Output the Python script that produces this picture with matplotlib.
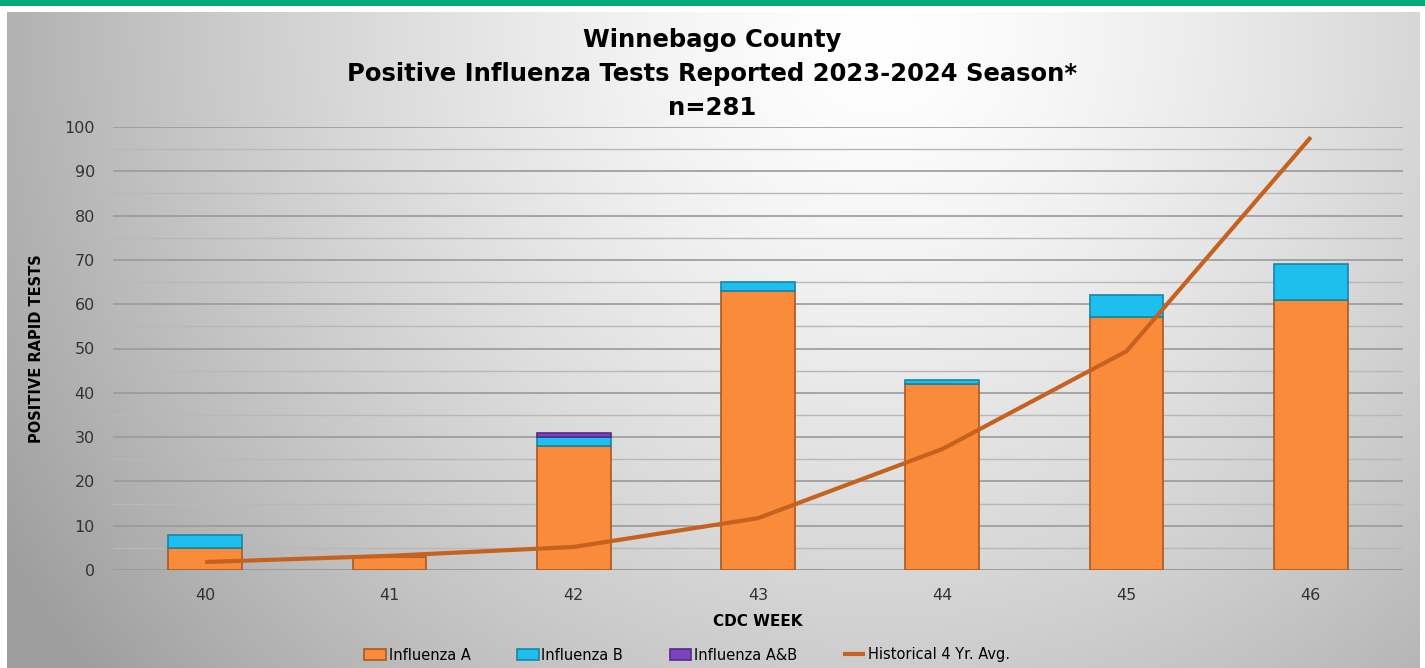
import numpy as np
import matplotlib
matplotlib.use("Agg")
import matplotlib.pyplot as plt

weeks = ["40", "41", "42", "43", "44", "45", "46"]
flu_a = [5, 3, 28, 63, 42, 57, 61]
flu_b = [3, 0, 2, 2, 1, 5, 8]
flu_ab = [0, 0, 1, 0, 0, 0, 0]
hist_avg = [1.8, 3.2, 5.2, 11.7, 27.3, 49.4, 97.7]
yticks = list(range(0, 101, 10))

plt.rcParams['font.family'] = ['DejaVu Sans']

W, H = 1425, 668
fig = plt.figure(figsize=(W / 100, H / 100), dpi=100)
fig.patch.set_facecolor("white")

# background gradient panel
bg = fig.add_axes([7 / W, 0, (1420 - 7) / W, 1 - 12 / H], zorder=0)
yy, xx = np.mgrid[0:656, 0:1413]
cx, cy = 870, 20
d = np.sqrt((xx - cx) ** 2 + (yy - cy) ** 2)
v = 1.0 - np.clip(d / 920, 0, 1.1) ** 1.4 * 0.33
img = np.dstack([v, v, v])
bg.imshow(img, aspect="auto", extent=[0, 1, 0, 1], origin="upper")
bg.set_axis_off()

# green top band
band = fig.add_axes([0, 1 - 6 / H, 1, 6 / H], zorder=1)
band.set_facecolor("#00a87a")
band.set_xticks([]); band.set_yticks([])
for s in band.spines.values():
    s.set_visible(False)

ax = fig.add_axes([113 / W, 1 - 570 / H, (1403 - 113) / W, (570 - 127) / H], zorder=2)
ax.patch.set_alpha(0)
x = np.arange(len(weeks))
bw = 0.4
orange, blue, purple = "#F98B3A", "#1DBFEE", "#7E44BE"


def stacked(vals, bottoms, color, edge, label):
    idx = [i for i, v in enumerate(vals) if v > 0]
    return ax.bar([x[i] for i in idx], [vals[i] for i in idx], bw,
                  bottom=[bottoms[i] for i in idx], color=color, edgecolor=edge,
                  linewidth=1.2, label=label, zorder=3)


h_a = stacked(flu_a, [0] * len(flu_a), orange, "#A95A22", "Influenza A")
h_b = stacked(flu_b, flu_a, blue, "#1585AA", "Influenza B")
bot2 = [a + b for a, b in zip(flu_a, flu_b)]
h_ab = stacked(flu_ab, bot2, purple, "#55298A", "Influenza A&B")
h_l, = ax.plot(x, hist_avg, color="#C5621F", linewidth=3.0, label="Historical 4 Yr. Avg.",
               zorder=4, solid_capstyle="butt")

ax.set_xlim(-0.5, 6.5)
ax.set_ylim(0, 100)
ax.set_yticks(yticks)
ax.set_yticks(range(5, 100, 10), minor=True)
ax.grid(axis="y", which="major", color="#9a9a9a", linewidth=1.2, zorder=0)
ax.grid(axis="y", which="minor", color="#b8b8b8", linewidth=1.0, zorder=0)
ax.set_xticks(x)
ax.set_xticklabels(weeks)
ax.tick_params(axis="both", which="both", length=0, labelsize=11.5, colors="#333333")
ax.tick_params(axis="x", pad=13)
ax.tick_params(axis="y", pad=13)
for s in ax.spines.values():
    s.set_visible(False)
ax.axhline(0, color="#9a9a9a", linewidth=1.2, zorder=1)

ax.set_xlabel("CDC WEEK", fontsize=11, fontweight="bold", labelpad=8)
ax.set_ylabel("POSITIVE RAPID TESTS", fontsize=10.5, fontweight="bold", labelpad=15)

for ypx, txt in [(40, "Winnebago County"),
                 (74, "Positive Influenza Tests Reported 2023-2024 Season*"),
                 (108, "n=281")]:
    fig.text(0.5, 1 - ypx / H, txt, ha="center", va="center", fontsize=17.5, fontweight="bold")

leg = fig.legend([h_a, h_b, h_ab, h_l],
                 ["Influenza A", "Influenza B", "Influenza A&B", "Historical 4 Yr. Avg."],
                 loc="center", bbox_to_anchor=(687 / W, 1 - 655 / H), ncol=4,
                 frameon=False, fontsize=10.5, handlelength=1.5, handleheight=0.75,
                 columnspacing=3.2, handletextpad=0.15)

fig.savefig("out.png", dpi=100)
